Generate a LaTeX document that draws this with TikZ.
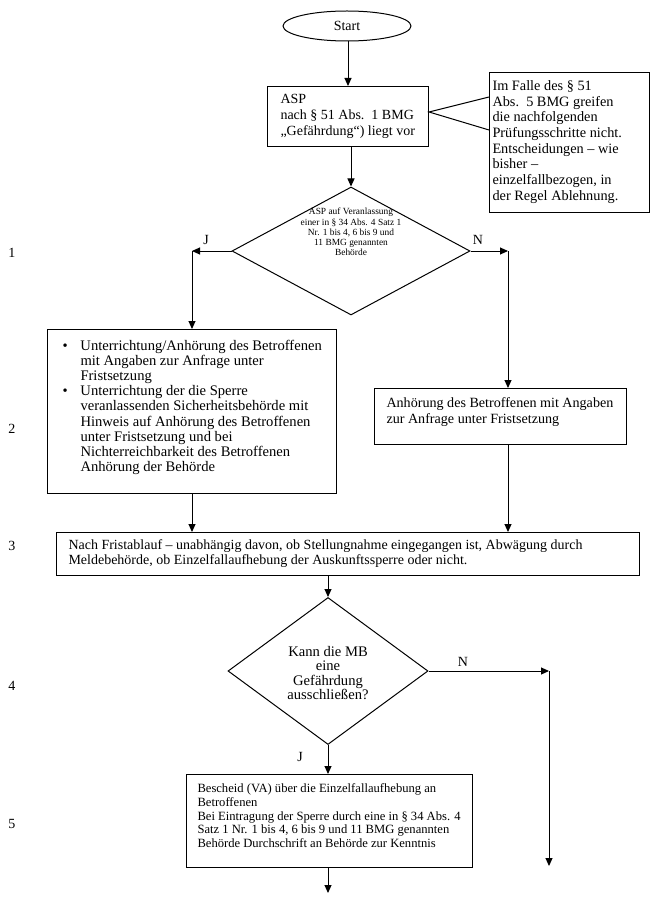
\documentclass[tikz,border=0pt]{standalone}
\usepackage{fontspec}
\setmainfont{Liberation Serif}
\usetikzlibrary{arrows.meta,shapes.geometric,calc}
\begin{document}
\begin{tikzpicture}[x=1pt,y=-1pt, line width=1pt,
  mainfont/.style={font=\fontsize{14}{15.5}\selectfont},
  box/.style={draw, rectangle, inner sep=0pt, anchor=north west},
  txt/.style={mainfont, anchor=north west, inner sep=0pt, align=left},
  ctxt/.style={mainfont, inner sep=0pt, align=center},
  lbl/.style={mainfont, inner sep=0pt},
  arr/.style={-{Triangle[length=8pt,width=7pt]}},
]
\useasboundingbox (0,0) rectangle (650,901);

% shapes
\node[draw, ellipse, inner sep=0pt, minimum width=128pt, minimum height=30pt] (start) at (347,26) {};
\node[lbl] (starttext) at (347,26) {Start};

\node[box, minimum width=161pt, minimum height=60pt] (asp) at (267,86) {};
\node[txt, anchor=west, font=\fontsize{14}{16}\selectfont] (asptext) at (280,116) {ASP\\nach § 51 Abs.~~1 BMG\\„Gefährdung“) liegt vor};

\node[box, minimum width=160pt, minimum height=140pt] (note) at (489,72) {};
\node[txt, anchor=west, font=\fontsize{14.3}{15.7}\selectfont] (notetext) at (492,142) {Im Falle des § 51\\Abs.~~5 BMG greifen\\die nachfolgenden\\Prüfungsschritte nicht.\\Entscheidungen – wie\\bisher –\\einzelfallbezogen, in\\der Regel Ablehnung.};

\coordinate (ctip) at ($(asp.north east)+(0,26)$);
\coordinate (c1) at ($(note.north west)+(0,25)$);
\coordinate (c2) at ($(note.north west)+(0,58)$);
\draw (c1) -- (ctip) -- (c2);

\node[draw, diamond, inner sep=0pt, minimum width=238pt, minimum height=128pt] (d1) at (351,251) {};
\node[inner sep=0pt, align=center, font=\fontsize{9.4}{10.2}\selectfont] (d1text) at (351,232) {ASP auf Veranlassung\\einer in § 34 Abs. 4 Satz 1\\Nr. 1 bis 4, 6 bis 9 und\\11 BMG genannten\\Behörde};

\node[box, minimum width=289pt, minimum height=164pt] (lbox) at (47,329) {};
\node[txt, font=\fontsize{14.6}{15.2}\selectfont] (lboxtext) at (57,338.9) {\begin{tabular}{@{}p{23pt}@{}l@{}}
\hspace*{5pt}•&Unterrichtung/Anhörung des Betroffenen\\
&mit Angaben zur Anfrage unter\\
&Fristsetzung\\
\hspace*{5pt}•&Unterrichtung der die Sperre\\
&veranlassenden Sicherheitsbehörde mit\\
&Hinweis auf Anhörung des Betroffenen\\
&unter Fristsetzung und bei\\
&Nichterreichbarkeit des Betroffenen\\
&Anhörung der Behörde
\end{tabular}};

\node[box, minimum width=252pt, minimum height=56pt] (rbox) at (374,388) {};
\node[txt, font=\fontsize{14.1}{16}\selectfont] (rboxtext) at (386,395.8) {\strut Anhörung des Betroffenen mit Angaben\\zur Anfrage unter Fristsetzung};

\node[box, minimum width=583pt, minimum height=43pt] (b3) at (56,532) {};
\node[txt, anchor=west, font=\fontsize{14}{14.5}\selectfont] (b3text) at (68,553.5) {Nach Fristablauf – unabhängig davon, ob Stellungnahme eingegangen ist, Abwägung durch\\Meldebehörde, ob Einzelfallaufhebung der Auskunftssperre oder nicht.};

\node[draw, diamond, inner sep=0pt, minimum width=200pt, minimum height=147pt] (d2) at (328,671) {};
\node[ctxt, font=\fontsize{14.6}{14.4}\selectfont] (d2text) at (328,673) {Kann die MB\\eine\\Gefährdung\\ausschließen?};

\node[box, minimum width=286pt, minimum height=93pt] (b5) at (186,774) {};
\node[txt, font=\fontsize{12.6}{13.8}\selectfont] (b5text) at (197,782.4) {\strut Bescheid (VA) über die Einzelfallaufhebung an\\Betroffenen\\Bei Eintragung der Sperre durch eine in § 34 Abs. 4\\Satz 1 Nr. 1 bis 4, 6 bis 9 und 11 BMG genannten\\Behörde Durchschrift an Behörde zur Kenntnis};

% row numbers
\node[lbl] (n1) at (12,253) {1};
\node[lbl] (n2) at (12,429) {2};
\node[lbl] (n3) at (12,546) {3};
\node[lbl] (n4) at (12,686) {4};
\node[lbl] (n5) at (12,824) {5};

% connectors
\draw[arr] (start.south -| asp.north) -- (asp.north);
\draw[arr] (asp.south -| d1.north) -- (d1.north);

\coordinate (jl) at (192,251);
\coordinate (nr) at (508,251);
\draw[arr] (d1.west) -- (jl);
\draw[arr] (d1.east) -- (nr);
\node[lbl] (jlabel) at (206,240) {J};
\node[lbl] (nlabel) at (478,240) {N};
\draw[arr] (jl) -- (jl |- lbox.north);
\draw[arr] (nr) -- (nr |- rbox.north);

\draw[arr] (lbox.south -| jl) -- (jl |- b3.north);
\draw[arr] (rbox.south -| nr) -- (nr |- b3.north);

\draw[arr] (b3.south -| d2.north) -- (d2.north);

\coordinate (nr2) at (549,671);
\coordinate (end2) at (549,866);
\draw[arr] (d2.east) -- (nr2);
\draw[arr] (nr2) -- (end2);
\node[lbl] (nlabel2) at (463,662) {N};

\draw[arr] (d2.south) -- (d2.south |- b5.north);
\node[lbl] (jlabel2) at (300,757) {J};

\coordinate (end1) at (328,893);
\draw[arr] (b5.south -| end1) -- (end1);
\end{tikzpicture}
\end{document}
